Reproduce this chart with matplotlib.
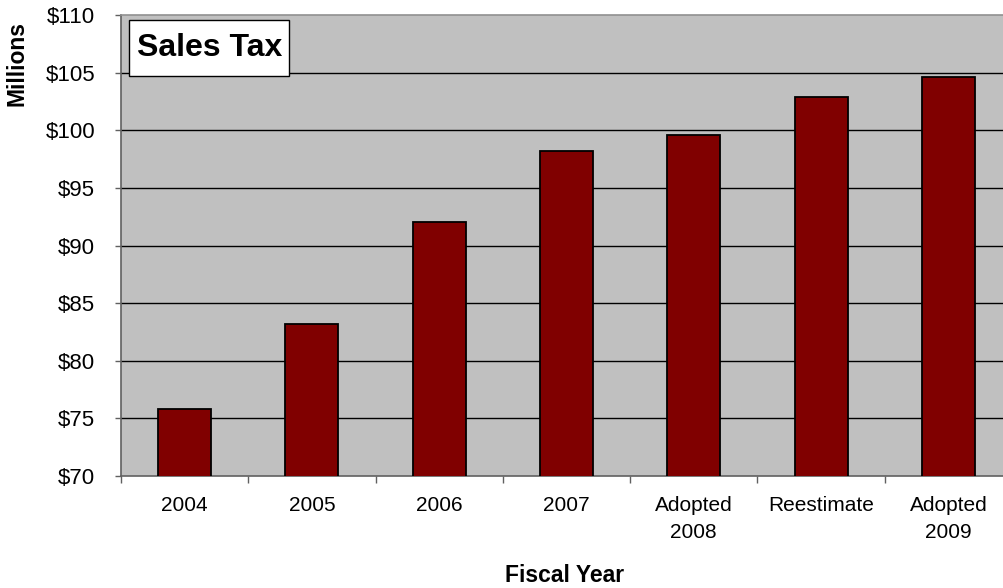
import matplotlib
matplotlib.use("Agg")
import matplotlib.pyplot as plt
from matplotlib.patches import Rectangle
import numpy as np

categories = ["2004", "2005", "2006", "2007", "Adopted\n2008", "Reestimate", "Adopted\n2009"]
values = [75.85, 83.2, 92.05, 98.2, 99.6, 102.9, 104.6]
yticks = [70, 75, 80, 85, 90, 95, 100, 105, 110]
ytick_labels = ["$" + str(v) for v in yticks]

plt.rcParams['font.family'] = ['Liberation Sans', 'DejaVu Sans']

W, H = 1004, 588
fig = plt.figure(figsize=(W / 100, H / 100), dpi=100)
L, R, T, B = 121, 1012, 15, 476
ax = fig.add_axes([L / W, 1 - B / H, (R - L) / W, (B - T) / H])
ax.set_facecolor('#C0C0C0')

x = np.arange(len(categories))
ax.bar(x, values, width=0.416, bottom=0, color='#800000', edgecolor='black', linewidth=1.3, zorder=3)

ax.set_xlim(-0.5, len(categories) - 0.5)
ax.set_ylim(70, 110)
ax.set_yticks(yticks)
ax.set_yticklabels(ytick_labels)
for v in yticks[1:-1]:
    ax.axhline(v, color='black', linewidth=1.0, zorder=1)

ax.set_xticks(x)
ax.set_xticklabels(categories, linespacing=1.5)
ax.set_xticks(np.arange(len(categories) + 1) - 0.5, minor=True)
ax.tick_params(axis='x', which='major', length=0, pad=14.5, labelsize=15, colors='black')
ax.tick_params(axis='x', which='minor', length=5, width=1, color='#606060', direction='out')
ax.tick_params(axis='y', which='major', length=4.5, width=1, color='#606060', pad=14, labelsize=16)

for s in ['left', 'bottom']:
    ax.spines[s].set_color('#606060')
    ax.spines[s].set_linewidth(1.2)
ax.spines['top'].set_color('#909090')
ax.spines['top'].set_linewidth(1.2)
ax.spines['right'].set_visible(False)

# Title box
bx0, by0, bx1, by1 = 129, 20, 289, 76
fig.patches.append(Rectangle((bx0 / W, 1 - by1 / H), (bx1 - bx0) / W, (by1 - by0) / H,
                             transform=fig.transFigure, facecolor='white', edgecolor='black',
                             linewidth=1.0, zorder=5))
fig.text(210 / W, 1 - 48 / H, "Sales Tax", ha='center', va='center', fontsize=23,
         fontweight='bold', zorder=6)

fig.text(17.5 / W, 1 - 63 / H, "Millions", rotation=90, ha='center', va='center',
         fontsize=16.5, fontweight='bold')
fig.text(565 / W, 1 - 576 / H, "Fiscal Year", ha='center', va='center',
         fontsize=16.5, fontweight='bold')

fig.savefig("out.png", dpi=100)
